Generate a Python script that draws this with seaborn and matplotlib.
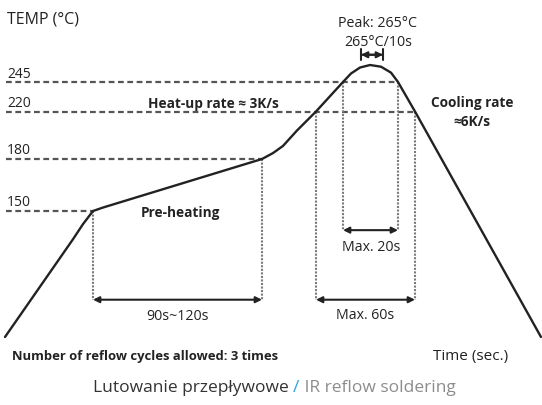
import numpy as np
import seaborn as sns
import matplotlib.pyplot as plt

# Reflow profile (schematic time units, temperature in degC)
time_pts = [5, 73, 83, 93, 103, 262, 273, 283, 297, 316, 343, 351, 360, 370, 381, 391, 398, 415, 541]
temp_pts = [25, 122, 137, 150, 152, 180, 185, 191, 204, 220, 245, 255, 262, 265, 263, 256, 245, 220, 25]

# reference levels and where the curve meets them
levels = [150, 180, 220, 245]
level_ends = [93, 262, 415, 398]

# time windows
preheat = (93, 262)
above_220 = (316, 415)
above_245 = (343, 398)
peak_dwell = (361, 383)

# schematic (non-linear) temperature axis
T_knots = [-60, 25, 150, 180, 220, 245, 265, 360]
h_knots = [-84, 0, 126, 178, 225.5, 255, 272, 353]


def fwd(T):
    return np.interp(T, T_knots, h_knots)


def inv(h):
    return np.interp(h, h_knots, T_knots)


sns.set_theme(style="white")
plt.rcParams['font.family'] = ['Open Sans', 'DejaVu Sans']

fig = plt.figure(figsize=(5.42, 4.06), dpi=100)
ax = fig.add_axes([0, 0, 1, 1])
ax.set_yscale('function', functions=(fwd, inv))

dark = '#222222'
dot_col = '#7a7a7a'

# dashed level lines + labels
for lv, end in zip(levels, level_ends):
    ax.plot([6, end], [lv, lv], color='#555555', lw=1.6, dashes=(2.6, 1.6))
    ax.annotate(str(lv), xy=(7, lv), xytext=(0, 9), textcoords='offset pixels',
                ha='left', va='center', fontsize=10, color=dark)

# dotted verticals
dot = dict(color=dot_col, lw=1.5, linestyle=(0, (1, 0.7)))
low_y = 62
ax.plot([preheat[0]] * 2, [150, low_y], **dot)
ax.plot([preheat[1]] * 2, [180, low_y], **dot)
ax.plot([above_220[0]] * 2, [220, low_y], **dot)
ax.plot([above_220[1]] * 2, [220, low_y], **dot)
ax.plot([above_245[0]] * 2, [245, 131], **dot)
ax.plot([above_245[1]] * 2, [245, 131], **dot)

# main curve
sns.lineplot(x=time_pts, y=temp_pts, sort=False, color=dark, lw=1.7, ax=ax)

arrow = dict(arrowstyle='<|-|>', color=dark, lw=1.5, mutation_scale=9, shrinkA=0, shrinkB=0)
ax.annotate('', xy=(preheat[0], low_y), xytext=(preheat[1], low_y), arrowprops=arrow)
ax.annotate('', xy=(above_220[0], low_y), xytext=(above_220[1], low_y), arrowprops=arrow)
ax.annotate('', xy=(above_245[0], 131), xytext=(above_245[1], 131), arrowprops=arrow)
ax.annotate('', xy=(peak_dwell[0], 277), xytext=(peak_dwell[1], 277), arrowprops=arrow)
ax.annotate('', xy=(peak_dwell[0], 277), xytext=(peak_dwell[1], 277),
            arrowprops=dict(arrowstyle='|-|, widthA=0.45, widthB=0.45', color=dark, lw=1.5,
                            mutation_scale=9, shrinkA=0, shrinkB=0))

# window labels
fs = 10.2
ax.text(sum(preheat) / 2, 46, '90s~120s', ha='center', va='center', fontsize=fs, color=dark)
ax.text(sum(above_220) / 2, 47, 'Max. 60s', ha='center', va='center', fontsize=fs, color=dark)
ax.text(sum(above_245) / 2 + 0.5, 115, 'Max. 20s', ha='center', va='center', fontsize=fs, color=dark)
ax.annotate('Peak: 265°C\n265°C/10s', xy=(378, 265), xytext=(0, 33), textcoords='offset pixels',
            ha='center', va='center', fontsize=10.3, color=dark, linespacing=1.3)

ax.text(148, 227, 'Heat-up rate ≈ 3K/s', ha='left', va='center', fontsize=9.8,
        fontweight='bold', color=dark)
ax.text(472, 228, 'Cooling rate', ha='center', va='center', fontsize=9.8,
        fontweight='bold', color=dark)
ax.text(472, 212, '≈6K/s', ha='center', va='center', fontsize=9.8,
        fontweight='bold', color=dark)
ax.text(180, 149, 'Pre-heating', ha='center', va='center', fontsize=9.8,
        fontweight='bold', color=dark)

ax.set_xlim(0, 542)
ax.set_ylim(inv(-68), inv(338))
ax.axis('off')

# free text
W, H = 542, 406
fig.text(7 / W, 1 - 19 / H, 'TEMP (°C)', ha='left', va='center', fontsize=11.5, color=dark)
fig.text(12 / W, 1 - 357 / H, 'Number of reflow cycles allowed: 3 times', ha='left', va='center',
         fontsize=9.4, fontweight='bold', color=dark)
fig.text(508 / W, 1 - 357 / H, 'Time (sec.)', ha='right', va='center', fontsize=11, color=dark)

t1 = fig.text(93 / W, 1 - 388 / H, 'Lutowanie przepływowe ', ha='left', va='center',
              fontsize=12.5, color='#333333')
t2 = ax.annotate('/', xy=(1, 0), xycoords=t1, ha='left', va='bottom',
                 fontsize=12.5, color='#2aa3df')
ax.annotate(' IR reflow soldering', xy=(1, 0), xycoords=t2, ha='left', va='bottom',
            fontsize=12.5, color='#8c8c8c')

plt.savefig('out.png', dpi=100)
